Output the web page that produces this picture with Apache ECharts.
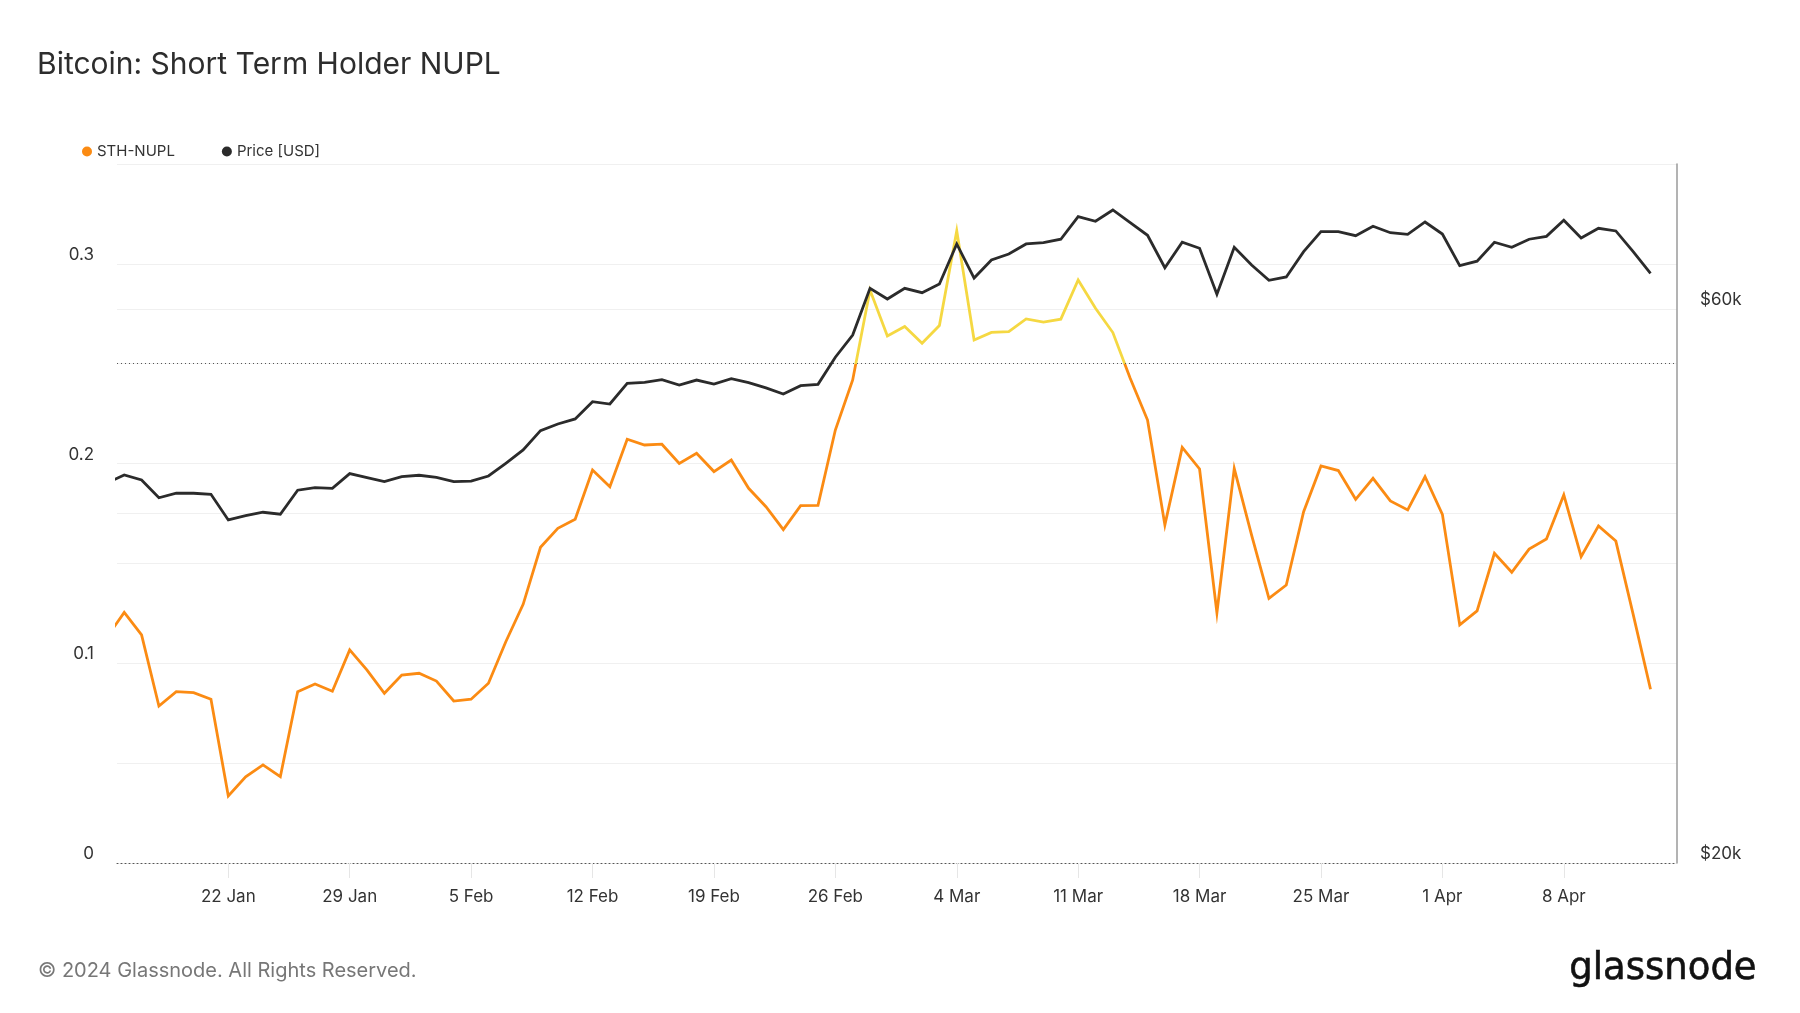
<!DOCTYPE html>
<html><head><meta charset="utf-8">
<script src="https://cdn.jsdelivr.net/npm/echarts@6/dist/echarts.min.js"></script>
<style>html,body{margin:0;padding:0;background:#fff}#c{width:1800px;height:1013px}</style>
</head><body><div id="c"></div>
<script>
const dates = [
 '2024-01-15','2024-01-16','2024-01-17','2024-01-18','2024-01-19','2024-01-20','2024-01-21','2024-01-22','2024-01-23','2024-01-24','2024-01-25','2024-01-26','2024-01-27','2024-01-28','2024-01-29','2024-01-30','2024-01-31',
 '2024-02-01','2024-02-02','2024-02-03','2024-02-04','2024-02-05','2024-02-06','2024-02-07','2024-02-08','2024-02-09','2024-02-10','2024-02-11','2024-02-12','2024-02-13','2024-02-14','2024-02-15','2024-02-16','2024-02-17','2024-02-18','2024-02-19','2024-02-20','2024-02-21','2024-02-22','2024-02-23','2024-02-24','2024-02-25','2024-02-26','2024-02-27','2024-02-28','2024-02-29',
 '2024-03-01','2024-03-02','2024-03-03','2024-03-04','2024-03-05','2024-03-06','2024-03-07','2024-03-08','2024-03-09','2024-03-10','2024-03-11','2024-03-12','2024-03-13','2024-03-14','2024-03-15','2024-03-16','2024-03-17','2024-03-18','2024-03-19','2024-03-20','2024-03-21','2024-03-22','2024-03-23','2024-03-24','2024-03-25','2024-03-26','2024-03-27','2024-03-28','2024-03-29','2024-03-30','2024-03-31',
 '2024-04-01','2024-04-02','2024-04-03','2024-04-04','2024-04-05','2024-04-06','2024-04-07','2024-04-08','2024-04-09','2024-04-10','2024-04-11','2024-04-12','2024-04-13'
];
const sthNupl = [
 0.113,0.1255,0.1142,0.0786,0.0858,0.0853,0.0820,0.0336,0.0432,0.0491,0.0432,0.0858,0.0896,0.0860,0.1067,0.0966,0.0850,
 0.0941,0.0950,0.0911,0.0811,0.0820,0.0900,0.1108,0.1295,0.1581,0.1676,0.1721,0.1968,0.1884,0.2122,0.2093,0.2097,0.2001,0.2052,0.1960,0.2018,0.1876,0.1784,0.1669,0.1789,0.1791,0.2168,0.2419,0.2869,0.2639,
 0.2686,0.2602,0.2691,0.3166,0.2619,0.2657,0.2661,0.2724,0.2708,0.2723,0.2919,0.2778,0.2656,0.2427,0.2218,0.1693,0.2081,0.1973,0.1253,0.1975,0.1642,0.1325,0.1392,0.1759,0.1988,0.1965,0.1821,0.1926,0.1813,0.1768,0.1934,
 0.1746,0.1192,0.1262,0.1551,0.1456,0.1572,0.1622,0.1843,0.1534,0.1688,0.1612,0.1245,0.0870
];
const priceUsd = [
 42500,43180,42750,41270,41640,41640,41550,39490,39830,40100,39940,41890,42100,42050,43290,42950,42610,
 43030,43150,42980,42610,42660,43090,44190,45370,47140,47770,48250,49930,49700,51790,51890,52160,51610,52120,51710,52260,51850,51310,50700,51540,51680,54530,56990,62520,61210,
 62520,61980,63060,68270,63810,66130,66920,68270,68440,68910,72070,71410,73030,71210,69450,65130,68500,67690,61780,67820,65480,63520,63940,67240,69950,69950,69400,70710,69810,69590,71310,
 69630,65390,65970,68500,67820,68910,69310,71550,69080,70420,70050,67240,64410
];
const xTickDates = ['2024-01-22','2024-01-29','2024-02-05','2024-02-12','2024-02-19','2024-02-26','2024-03-04','2024-03-11','2024-03-18','2024-03-25','2024-04-01','2024-04-08'];
const xTickLabels = ['22 Jan','29 Jan','5 Feb','12 Feb','19 Feb','26 Feb','4 Mar','11 Mar','18 Mar','25 Mar','1 Apr','8 Apr'];
const leftTickLabels = [0, 0.1, 0.2, 0.3];
const rightTickLabels = [20000, 60000];
const rightGridValues = [20000, 40000, 60000, 80000];
const nuplThreshold = 0.25;

const ORANGE = '#fb8b13', YELLOW = '#f5d842', DARK = '#2b2b2b';
const FONT = 'Inter, "Noto Sans", sans-serif';
const DAY = 86400000;
const T0 = Date.UTC(2024, 0, 15);
const dayOf = (s) => { const p = s.split('-').map(Number); return (Date.UTC(p[0], p[1] - 1, p[2]) - T0) / DAY; };
const xDays = dates.map(dayOf);
const xTickDays = xTickDates.map(dayOf);

const chart = echarts.init(document.getElementById('c'));
chart.setOption({
  animation: false,
  backgroundColor: '#fff',
  textStyle: { fontFamily: FONT },
  title: {
    text: 'Bitcoin: Short Term Holder NUPL',
    left: 32, top: 45,
    textStyle: { fontSize: 30, fontWeight: 400, color: '#2d2d2d', fontFamily: FONT }
  },
  legend: {
    left: 77, top: 139,
    icon: 'circle', itemWidth: 10, itemHeight: 10, itemGap: 47,
    textStyle: { fontSize: 15, color: '#333', fontFamily: FONT },
    data: [
      { name: 'STH-NUPL', itemStyle: { color: ORANGE } },
      { name: 'Price [USD]', itemStyle: { color: DARK } }
    ]
  },
  grid: { left: 117, right: 123, top: 164, bottom: 150 },
  visualMap: {
    type: 'piecewise', show: false, seriesIndex: 0, dimension: 1,
    pieces: [{ gte: -1, lt: nuplThreshold, color: ORANGE }, { gte: nuplThreshold, lte: 1, color: YELLOW }]
  },
  xAxis: {
    type: 'value',
    min: 0.583, max: 90.527,
    axisLine: { show: true, onZero: false, lineStyle: { color: '#555', type: [1, 3], width: 1 } },
    axisTick: { show: true, length: 15, lineStyle: { color: '#e6e6e6' }, customValues: xTickDays },
    axisLabel: {
      customValues: xTickDays, margin: 25, fontSize: 17, color: '#333', fontFamily: FONT,
      formatter: (v) => { const i = xTickDays.findIndex(t => Math.abs(t - v) < 1e-6); return i >= 0 ? xTickLabels[i] : ''; }
    },
    splitLine: { show: false }
  },
  yAxis: [
    {
      type: 'value', min: 0, max: 0.35, interval: 0.05, position: 'left',
      axisLine: { show: false }, axisTick: { show: false },
      axisLabel: {
        margin: 23, fontSize: 17, color: '#333', fontFamily: FONT, verticalAlign: 'bottom', lineHeight: 18,
        formatter: (v) => leftTickLabels.some(t => Math.abs(t - v) < 1e-9) ? String(+v.toFixed(2)) : ''
      },
      splitLine: { show: true, lineStyle: { color: '#f0f0f0', width: 1 } }
    },
    {
      type: 'log', logBase: 2, min: 20000, max: 80000, position: 'right',
      axisLine: { show: true, lineStyle: { color: '#9a9a9a', width: 1.5 } },
      axisTick: { show: false, customValues: rightGridValues },
      axisLabel: {
        customValues: rightTickLabels, margin: 23, fontSize: 17, color: '#333', fontFamily: FONT,
        verticalAlign: 'bottom', lineHeight: 18,
        formatter: (v) => '$' + Math.round(v / 1000) + 'k'
      },
      splitLine: { show: true, lineStyle: { color: '#f0f0f0', width: 1 } }
    }
  ],
  series: [
    {
      name: 'STH-NUPL', type: 'line', yAxisIndex: 0, showSymbol: false, symbol: 'none',
      z: 3,
      itemStyle: { color: ORANGE },
      lineStyle: { width: 2.8, join: 'miter' },
      data: xDays.map((x, i) => [x, sthNupl[i]]),
      markLine: {
        silent: true, symbol: 'none', label: { show: false },
        lineStyle: { color: '#555', type: [1, 3], width: 1 },
        data: [{ yAxis: nuplThreshold }]
      }
    },
    {
      name: 'Price [USD]', type: 'line', yAxisIndex: 1, showSymbol: false, symbol: 'none',
      z: 4,
      itemStyle: { color: DARK },
      lineStyle: { width: 2.8, color: DARK, join: 'miter' },
      data: xDays.map((x, i) => [x, priceUsd[i]])
    }
  ],
  graphic: [
    { type: 'text', left: 38, top: 961, style: { text: '© 2024 Glassnode. All Rights Reserved.', fontSize: 20, fill: '#777', fontFamily: FONT } },
    { type: 'text', left: 1569, top: 951, style: { text: 'glassnode', fontSize: 37, fontWeight: 'normal', fill: '#111', stroke: '#111', lineWidth: 0.6, fontFamily: '"DejaVu Sans", sans-serif', letterSpacing: 2.2 } }
  ]
});
</script></body></html>
